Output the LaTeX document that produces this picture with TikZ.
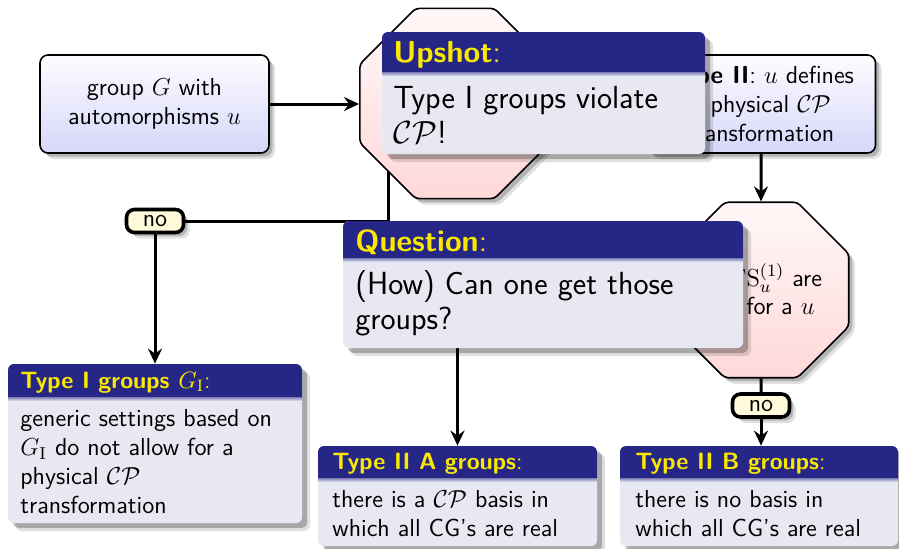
\RequirePackage{fix-cm}
\documentclass[tikz,border=0pt]{standalone}
\usetikzlibrary{shapes.geometric,shadows,fit,arrows.meta,backgrounds}
\definecolor{headcol}{RGB}{38,38,134}
\definecolor{titlecol}{RGB}{250,232,0}
\definecolor{bodycol}{RGB}{232,232,242}
\definecolor{boxtop}{RGB}{253,253,255}
\definecolor{boxbot}{RGB}{214,214,250}
\definecolor{octtop}{RGB}{255,248,248}
\definecolor{octbot}{RGB}{255,216,216}
\definecolor{nofill}{RGB}{255,250,218}
\newcommand\fnorm{\fontsize{12.3}{14.4}\selectfont\sffamily}
\newcommand\fhead{\fontsize{11.8}{14.4}\selectfont\sffamily}
\newcommand\fbig{\fontsize{16}{17.4}\selectfont\sffamily}
\newcommand\fbighead{\fontsize{15.2}{17.4}\selectfont\sffamily}
\tikzset{
  softshadow/.style={general shadow={shadow xshift=3pt,shadow yshift=-3pt,opacity=.12,fill=black},
                     general shadow={shadow xshift=1.8pt,shadow yshift=-1.8pt,opacity=.2,fill=black}},
  blkshadow/.style={general shadow={shadow xshift=4pt,shadow yshift=-4pt,opacity=.12,fill=black},
                    general shadow={shadow xshift=2.5pt,shadow yshift=-2.5pt,opacity=.25,fill=black}},
  flowbox/.style={draw,line width=0.8pt,rounded corners=4pt,top color=boxtop,bottom color=boxbot,softshadow,inner sep=0pt,align=center,font=\fnorm,minimum width=114.5pt,minimum height=49pt},
  octa/.style={regular polygon,regular polygon sides=8,draw,line width=0.8pt,rounded corners=2pt,top color=octtop,bottom color=octbot,softshadow,inner sep=0pt,align=center,font=\fnorm},
  nobox/.style={draw,line width=1.8pt,rounded corners=4pt,fill=nofill,font=\fnorm,minimum width=28.5pt,minimum height=11.5pt,inner sep=0pt,softshadow},
  blockbg/.style={fill=bodycol,rounded corners=3pt,blkshadow,inner sep=0pt},
  btitle/.style={anchor=base west,inner sep=0pt,text=titlecol},
  btext/.style={anchor=base west,inner sep=0pt,align=left,text=black},
  conn/.style={line width=1.5pt},
  arr/.style={conn,-{Stealth[length=7.5pt,width=7pt,inset=2.5pt]}},
}
\newcommand\myblk[6]{%
  \node[blockbg,fit={(#2,#3) (#4,#5)}] (#1) {};
  \fill[headcol] (#2,#6) [rounded corners=3pt] -- (#2,#3) -- (#4,#3) [sharp corners] -- (#4,#6) -- cycle;
  \shade[top color=headcol!55!bodycol,bottom color=bodycol] (#2,#6) rectangle (#4,#6+4);
}
\begin{document}
\begin{tikzpicture}[x=0.5pt,y=-0.5pt]
\useasboundingbox (0,0) rectangle (899,548);
% flow boxes
\node[flowbox] (box1) at (154.5,104) {group $G$ with\\automorphisms $u$};
\node[flowbox] (box2) at (761,104) {\textbf{Type II}: $u$ defines\\a physical $\mathcal{CP}$\\transformation};
\node[octa,minimum size=103pt] (oct1) at (455,103.5) {};
\node[octa,minimum size=95pt] (oct2) at (761,290) {all $\mathrm{FS}_u^{(1)}$ are\\$+1$ for a $u$};
\node[nobox] (no1) at (155,221) {no};
\node[nobox] (no2) at (761,405.5) {no};
% lower blocks
\myblk{t1}{8}{364}{302}{523}{397}
\node[btitle,font=\fhead] (t1h) at (20,388) {\textbf{Type I groups $G_{\mathrm{I}}$}:};
\node[btext,font=\fnorm] (t1b) at (20,513) {generic settings based on\\$G_{\mathrm{I}}$ do not allow for a\\physical $\mathcal{CP}$\\transformation};
\myblk{IIA}{318}{446}{597}{546}{478}
\node[btitle,font=\fhead] (IIAh) at (332,469) {\textbf{Type II A groups}:};
\node[btext,font=\fnorm] (IIAb) at (332,536.5) {there is a $\mathcal{CP}$ basis in\\which all CG's are real};
\myblk{IIB}{620}{446}{898}{546}{478}
\node[btitle,font=\fhead] (IIBh) at (635,469) {\textbf{Type II B groups}:};
\node[btext,font=\fnorm] (IIBb) at (635,536.5) {there is no basis in\\which all CG's are real};
% connectors
\coordinate (c1) at (388,150);
\begin{pgfonlayer}{background}
\draw[conn] (c1) |- (no1.east);
\end{pgfonlayer}
\draw[arr] (no1.south) -- (no1.south |- t1.north);
\draw[arr] (box1.east) -- (box1.east -| oct1.west);
\draw[arr] (box2.south) -- (oct2.north);
\draw[conn] (oct2.south) -- (no2.north);
\draw[arr] (no2.south) -- (no2.south |- IIB.north);
\draw[arr] (oct2.west) -| (IIA.north);
% overlay blocks
\myblk{up}{382}{32}{705}{154}{72}
\node[btitle,font=\fbighead] (uph) at (393,62) {\textbf{Upshot}:};
\node[btext,font=\fbig] (upb) at (393,143) {Type I groups violate\\$\mathcal{CP}$!};
\myblk{q}{343}{221}{743}{348}{258}
\node[btitle,font=\fbighead] (qh) at (355,251) {\textbf{Question}:};
\node[btext,font=\fbig] (qb) at (355,329) {(How) Can one get those\\groups?};
\end{tikzpicture}
\end{document}
